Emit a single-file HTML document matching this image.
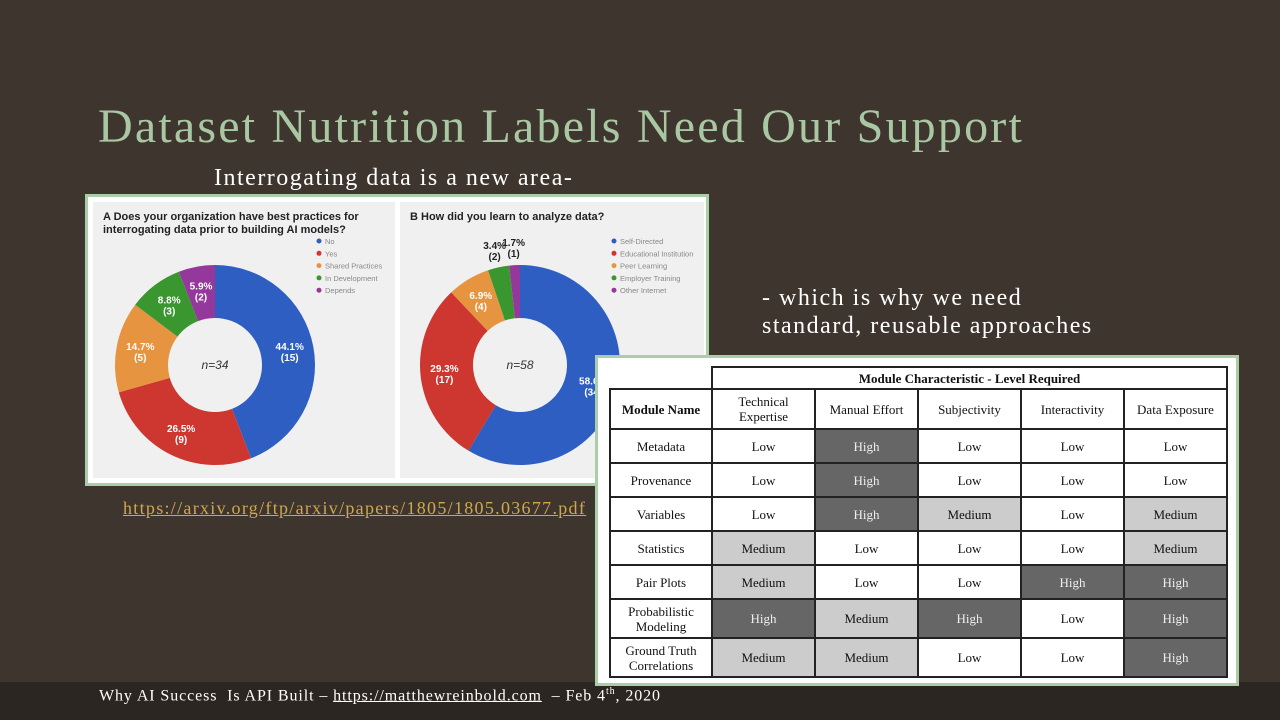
<!DOCTYPE html>
<html><head><meta charset="utf-8"><style>
body{margin:0;width:1280px;height:720px;overflow:hidden;background:#3e362e;position:relative;font-family:"Liberation Serif",serif}
.abs{position:absolute}
#title{left:98px;top:99px;font-size:48px;color:#a9c7a3;white-space:nowrap;letter-spacing:2.2px}
.txt{color:#fff;font-size:24px;white-space:nowrap;letter-spacing:1.5px}
#link{left:123px;top:498px;font-size:18px;color:#d0a74c;text-decoration:underline;letter-spacing:1.3px;white-space:nowrap}
#footer{left:0;top:682px;width:1280px;height:38px;background:#2b2622}
#foottext{left:99px;top:686px;color:#fff;font-size:16px;white-space:nowrap;letter-spacing:0.9px}
#foottext a{color:#fff}
#figbox{left:85px;top:194px;width:618px;height:286px;border:3px solid #a9cfa9;background:#fff}
#tablebox{left:595px;top:355px;width:638px;height:325px;border:3px solid #a9cfa9;background:#fff;z-index:5}
table{position:absolute;left:11px;top:8px;border-collapse:collapse;font-family:"Liberation Serif",serif;font-size:13px;color:#111}
td{border:2px solid #222;text-align:center;padding:0;line-height:15px}
.h{background:#666;color:#eee}.m{background:#ccc}
</style></head><body>
<div id="title" class="abs">Dataset Nutrition Labels Need Our Support</div>
<div class="abs txt" style="left:214px;top:165px">Interrogating data is a new area-</div>
<div class="abs txt" style="left:762px;top:284px;line-height:28px">- which is why we need<br>standard, reusable approaches</div>

<div id="figbox" class="abs">
<svg id="donuts" width="618" height="286" style="position:absolute;left:0;top:0" font-family="Liberation Sans, sans-serif"></svg>
</div>
<div id="link" class="abs">https://arxiv.org/ftp/arxiv/papers/1805/1805.03677.pdf</div>

<div id="tablebox" class="abs">
<table>
<colgroup><col style="width:102px"><col style="width:103px"><col style="width:103px"><col style="width:103px"><col style="width:103px"><col style="width:103px"></colgroup>
<tr style="height:22px"><td style="border-left:none;border-top:none"></td><td colspan="5"><b>Module Characteristic - Level Required</b></td></tr>
<tr style="height:40px"><td><b>Module Name</b></td><td>Technical<br>Expertise</td><td>Manual Effort</td><td>Subjectivity</td><td>Interactivity</td><td>Data Exposure</td></tr>
<tr style="height:34px"><td>Metadata</td><td>Low</td><td class="h">High</td><td>Low</td><td>Low</td><td>Low</td></tr>
<tr style="height:34px"><td>Provenance</td><td>Low</td><td class="h">High</td><td>Low</td><td>Low</td><td>Low</td></tr>
<tr style="height:34px"><td>Variables</td><td>Low</td><td class="h">High</td><td class="m">Medium</td><td>Low</td><td class="m">Medium</td></tr>
<tr style="height:34px"><td>Statistics</td><td class="m">Medium</td><td>Low</td><td>Low</td><td>Low</td><td class="m">Medium</td></tr>
<tr style="height:34px"><td>Pair Plots</td><td class="m">Medium</td><td>Low</td><td>Low</td><td class="h">High</td><td class="h">High</td></tr>
<tr style="height:39px"><td>Probabilistic<br>Modeling</td><td class="h">High</td><td class="m">Medium</td><td class="h">High</td><td>Low</td><td class="h">High</td></tr>
<tr style="height:39px"><td>Ground Truth<br>Correlations</td><td class="m">Medium</td><td class="m">Medium</td><td>Low</td><td>Low</td><td class="h">High</td></tr>
</table>
</div>

<div id="footer" class="abs"></div>
<div id="foottext" class="abs">Why AI Success &nbsp;Is API Built – <a href="#">https://matthewreinbold.com</a> &nbsp;– Feb 4<sup style="font-size:10px">th</sup>, 2020</div>

<script>
const catsA = ["No","Yes","Shared Practices","In Development","Depends"];
const valsA = [15,9,5,3,2];
const catsB = ["Self-Directed","Educational Institution","Peer Learning","Employer Training","Other Internet"];
const valsB = [34,17,4,2,1];
const colors = ["#2f5ec2","#cd3730","#e6943f","#3a962f","#95389b"];
const NS="http://www.w3.org/2000/svg";
const svg=document.getElementById('donuts');
function mk(t,a,p){const e=document.createElementNS(NS,t);for(const k in a)e.setAttribute(k,a[k]);(p||svg).appendChild(e);return e;}
function pt(cx,cy,r,a){return [cx+r*Math.sin(a),cy-r*Math.cos(a)];}
function panel(x,w,title,cats,vals,cx,cy,n,key){
  const bg=mk('rect',{x:x,y:5,width:w,height:276,fill:'#f0f0f0'});
  
  
  title.forEach((t,i)=>{const e=mk('text',{x:x+10,y:23+i*13,'font-size':11,'font-weight':'bold',fill:'#222'});e.textContent=t;
    
    });
  const tot=vals.reduce((a,b)=>a+b,0);const R=100,r=47;let a0=0;
  vals.forEach((v,i)=>{
    const a1=a0+v/tot*2*Math.PI;const big=(a1-a0)>Math.PI?1:0;
    const p1=pt(cx,cy,R,a0),p2=pt(cx,cy,R,a1),p3=pt(cx,cy,r,a1),p4=pt(cx,cy,r,a0);
    const s=mk('path',{d:`M${p1}A${R},${R} 0 ${big} 1 ${p2}L${p3}A${r},${r} 0 ${big} 0 ${p4}Z`,fill:colors[i]});
    
    
    const f=v/tot,am=(a0+a1)/2;const lr=f<0.05?118:76;const lp=pt(cx,cy,lr,am);
    const col=f<0.05?'#222':'#fff';
    const l1=mk('text',{x:lp[0],y:lp[1]-1,'text-anchor':'middle','font-size':10,'font-weight':'bold',fill:col});
    l1.textContent=(f*100).toFixed(1)+'%';
    
    
    const l2=mk('text',{x:lp[0],y:lp[1]+10,'text-anchor':'middle','font-size':10,'font-weight':'bold',fill:col});
    l2.textContent='('+v+')';
    
    
    a0=a1;});
  const c=mk('text',{x:cx,y:cy+4,'text-anchor':'middle','font-size':12,'font-style':'italic',fill:'#333'});c.textContent='n='+n;
  
  
  cats.forEach((t,i)=>{const lx=key==='a'?231:526;
    const d=mk('circle',{cx:lx,cy:44+i*12.3,r:2.5,fill:colors[i]});
    
    
    const e=mk('text',{x:lx+6,y:47+i*12.3,'font-size':7.5,fill:'#888'});e.textContent=t;
    
    });
}
panel(5,302,["A  Does your organization have best practices for","    interrogating data prior to building AI models?"],catsA,valsA,127,168,34,'a');
panel(312,304,["B  How did you learn to analyze data?"],catsB,valsB,432,168,58,'b');
</script>
</body></html>
